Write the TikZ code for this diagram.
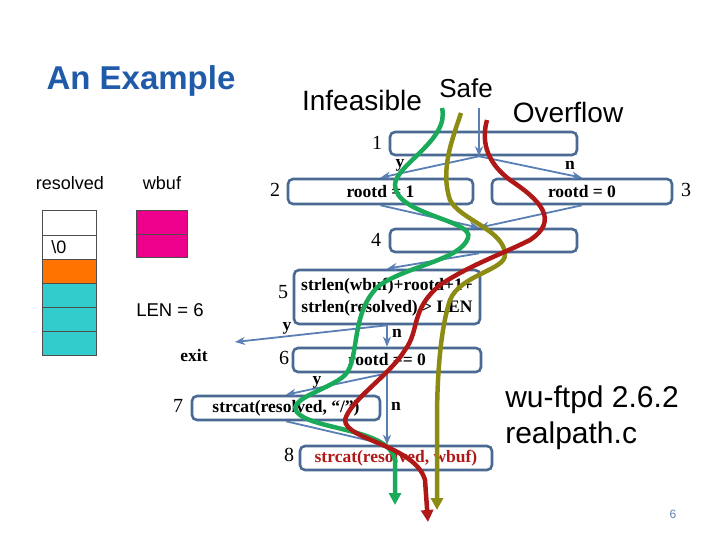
\documentclass[tikz,border=0pt]{standalone}
\usepackage{fontspec}
\newfontfamily\sans{Liberation Sans}
\setmainfont{Liberation Serif}
\usetikzlibrary{arrows.meta}
\definecolor{bx}{HTML}{4A6A94}
\definecolor{ar}{HTML}{5A7FB5}
\definecolor{ttl}{HTML}{1F5BA8}
\definecolor{gr}{HTML}{1BAA5A}
\definecolor{ol}{HTML}{8C8C14}
\definecolor{rd}{HTML}{B01818}
\definecolor{tl}{HTML}{33CCCC}
\begin{document}
\begin{tikzpicture}[x=1pt,y=-1pt,
 box/.style={draw=bx,line width=2.6pt,rounded corners=5pt,inner sep=0},
 lab/.style={font=\fontsize{20}{20}\selectfont},
 bt/.style={font=\bfseries\fontsize{17.5}{22}\selectfont},
 arr/.style={draw=ar,line width=1.8pt,-{Stealth[length=10pt,width=8pt]}},
 path/.style={line width=4.5pt,-{Triangle[length=12pt,width=12pt]}},
 cell/.style={draw=black!70,line width=0.8pt}]
\useasboundingbox (0,0) rectangle (720,540);
% title etc.
\node[text=ttl,font=\sans\bfseries\fontsize{33}{33}\selectfont] (t) at (141,81) {An Example};
\node[font=\sans\fontsize{28}{28}\selectfont] (inf) at (362,100) {Infeasible};
\node[font=\sans\fontsize{26}{26}\selectfont] (safe) at (466,88) {Safe};
\node[font=\sans\fontsize{28}{28}\selectfont] (ovf) at (568,112) {Overflow};
\node[font=\sans\fontsize{18}{18}\selectfont] (res) at (70,183) {resolved};
\node[font=\sans\fontsize{18}{18}\selectfont] (wb) at (162,183) {wbuf};
\node[font=\sans\fontsize{18.5}{18}\selectfont] (len) at (170,310) {LEN = 6};
\node[bt] (exit) at (194,356) {exit};
\node[font=\sans\fontsize{30}{36}\selectfont,align=left] (wu) at (592,418) {wu-ftpd 2.6.2\\realpath.c};
\node[text=ar,font=\sans\fontsize{12}{12}\selectfont] (pg) at (673,514) {6};
% arrays
\draw[cell] (42,210) rectangle (96,235);
\draw[cell] (42,235) rectangle (96,259);
\node[font=\sans\fontsize{18}{18}\selectfont] (z) at (59,247) {\textbackslash 0};
\draw[cell,fill=orange!90!red] (42,259) rectangle (96,283);
\foreach \a in {283,307,331}{\draw[cell,fill=tl] (42,\a) rectangle (96,\a+24);}
\draw[cell,fill=magenta] (136,210) rectangle (187,234);
\draw[cell,fill=magenta] (136,234) rectangle (187,257);
% boxes
\node[box,minimum width=187pt,minimum height=23pt] (b1) at (483.5,143.5) {};
\node[box,minimum width=185pt,minimum height=25pt,bt] (b2) at (380.5,191.5) {rootd = 1};
\node[box,minimum width=180pt,minimum height=25pt,bt] (b3) at (582,191.5) {rootd = 0};
\node[box,minimum width=187pt,minimum height=23pt] (b4) at (483.5,240.5) {};
\node[box,minimum width=186pt,minimum height=54pt,bt,align=center] (b5) at (387,297) {strlen(wbuf)+rootd+1+\\strlen(resolved) > LEN};
\node[box,minimum width=188pt,minimum height=24pt,bt] (b6) at (387,360) {rootd == 0};
\node[box,minimum width=188pt,minimum height=24pt,bt] (b7) at (286,408) {strcat(resolved, “/”)};
\node[box,minimum width=192pt,minimum height=24pt,bt,text=rd] (b8) at (396,458) {strcat(resolved, wbuf)};
\foreach \n/\x/\y in {1/377/143,2/275/190,3/686/190,4/376/240,5/283/292,6/284/358,7/178/406,8/289/455}
  \node[lab] (l\n) at (\x,\y) {\n};
% connectors
\coordinate (in) at (479,108);
\coordinate (ex) at (235,342);
\draw[arr] (in) -- (b1.south -| in) ;
\draw[arr] (b1.south -| in) -- (b2.north);
\draw[arr] (b1.south -| in) -- (b3.north);
\draw[arr] (b2.south) -- (b4.north -| in);
\draw[arr] (b3.south) -- (b4.north -| in);
\draw[arr] (b4.south -| in) -- (b5.north);
\draw[arr] (b5.south) -- (ex);
\draw[arr] (b5.south) -- (b6.north);
\draw[arr] (b6.south) -- (b7.north);
\draw[arr] (b6.south) -- (b8.north -| b6.south);
\draw[arr] (b7.south) -- (b8.north -| b6.south);
\node[bt] (y1) at (400,165) {y};
\node[bt] (n1) at (570,165) {n};
\node[bt] (y5) at (287,328) {y};
\node[bt] (n5) at (397,333) {n};
\node[bt] (y6) at (317,382) {y};
\node[bt] (n6) at (396,406) {n};
% paths
\draw[path,gr] (442,108) .. controls (450,140) and (395,165) .. (395,185)
  .. controls (395,215) and (475,220) .. (468,238)
  .. controls (460,260) and (410,265) .. (380,285)
  .. controls (350,310) and (360,360) .. (345,375)
  .. controls (330,390) and (280,400) .. (300,415)
  .. controls (320,430) and (390,430) .. (395,460) -- (395,505);
\draw[path,ol] (461,113) .. controls (452,140) and (440,170) .. (450,200)
  .. controls (460,220) and (505,230) .. (505,255)
  .. controls (505,270) and (460,275) .. (450,300)
  .. controls (440,330) and (437,380) .. (437,420) -- (437,510);
\draw[path,rd] (487,120) .. controls (480,145) and (490,165) .. (510,180)
  .. controls (540,200) and (560,220) .. (530,240)
  .. controls (500,255) and (470,265) .. (440,285)
  .. controls (410,310) and (420,330) .. (405,350)
  .. controls (390,375) and (350,400) .. (345,420)
  .. controls (345,440) and (415,445) .. (425,480) -- (428,522);
\end{tikzpicture}
\end{document}
